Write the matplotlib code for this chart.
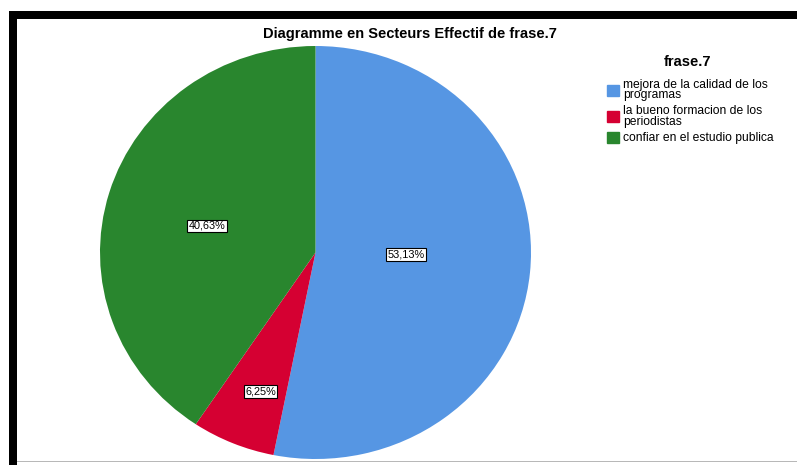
import matplotlib
matplotlib.use("Agg")
import matplotlib.pyplot as plt
import matplotlib.patches as mpatches
import numpy as np

plt.rcParams['font.family'] = ['Liberation Sans', 'DejaVu Sans']

legend_title = "frase.7"
categories = ["mejora de la calidad de los\nprogramas",
              "la bueno formacion de los\nperiodistas",
              "confiar en el estudio publica"]
counts = [17, 2, 13]
pct_labels = ["53,13%", "6,25%", "40,63%"]
colors = ["#5696E3", "#D50032", "#29862E"]
label_radius = [0.42, 0.72, 0.52]
label_angle_shift = [4.5, 1.7, 2.5]

W, H = 797, 465
fig = plt.figure(figsize=(W / 100, H / 100), dpi=100)
fig.patch.set_facecolor("white")

# frame decorations (black bars on top/left, grey line bottom)
fig.add_artist(mpatches.Rectangle((9 / W, 1 - 19 / H), 1 - 9 / W, 8 / H,
                                  transform=fig.transFigure, color="black", lw=0))
fig.add_artist(mpatches.Rectangle((9 / W, 0), 8 / W, 1 - 11 / H,
                                  transform=fig.transFigure, color="black", lw=0))
fig.add_artist(mpatches.Rectangle((17 / W, 3 / H), 1 - 17 / W, 1.5 / H,
                                  transform=fig.transFigure, color="#b8b8b8", lw=0))

# pie axes
left, right, top, bottom = 100, 531, 46, 459
ax = fig.add_axes([left / W, 1 - bottom / H, (right - left) / W, (bottom - top) / H])
wedges, _ = ax.pie(counts, colors=colors, startangle=90, counterclock=False,
                   radius=1.0, wedgeprops=dict(linewidth=0))
ax.set_aspect('auto')
ax.set_xlim(-1, 1)
ax.set_ylim(-1, 1)
ax.axis('off')

for w, lab, r, da in zip(wedges, pct_labels, label_radius, label_angle_shift):
    ang = np.deg2rad((w.theta1 + w.theta2) / 2 + da)
    ax.text(r * np.cos(ang), r * np.sin(ang), lab, ha='center', va='center',
            fontsize=7.8, color='black',
            bbox=dict(boxstyle='square,pad=0.12', fc='white', ec='black', lw=0.8))

fig.text(410 / W, 1 - 34 / H, "Diagramme en Secteurs Effectif de frase.7",
         ha='center', va='center', fontsize=10.5, fontweight='bold')

fig.text(688 / W, 1 - 62 / H, legend_title, ha='center', va='center',
         fontsize=10.5, fontweight='bold')

handles = [mpatches.Patch(color=c) for c in colors]
leg = fig.legend(handles, categories,
                 loc='upper left', bbox_to_anchor=(607 / W, 1 - 79 / H),
                 frameon=False, fontsize=8.7,
                 handlelength=1.0, handleheight=1.0, handletextpad=0.3,
                 labelspacing=0.35, borderaxespad=0, borderpad=0)
for t in leg.get_texts():
    t.set_linespacing(0.8)

fig.savefig("out.png", dpi=100, facecolor="white")
